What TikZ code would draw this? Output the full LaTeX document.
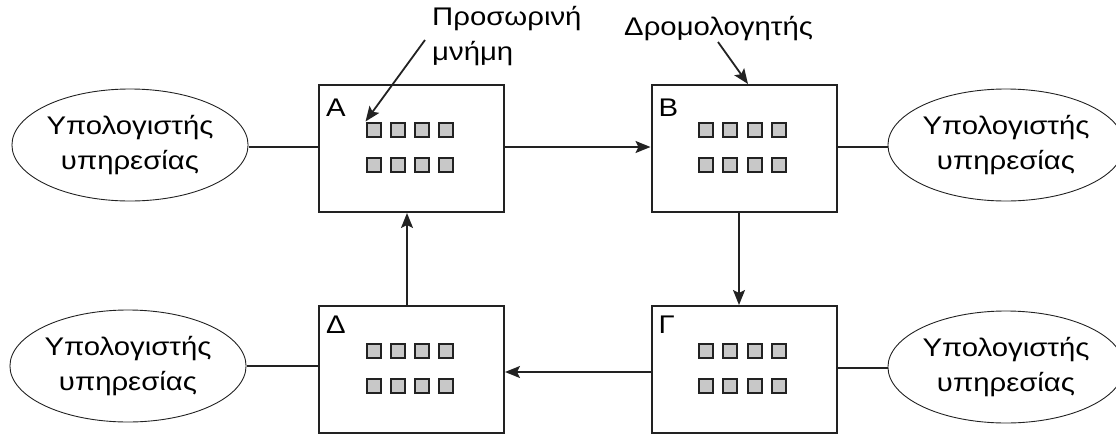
\documentclass[tikz,border=0pt]{standalone}
\usepackage{fontspec}
\setmainfont[FakeStretch=1.15]{Liberation Sans}
\usetikzlibrary{shapes.geometric,arrows.meta}
\definecolor{ink}{HTML}{222222}
\definecolor{cell}{HTML}{C8C8C8}
\tikzset{
  router/.style={draw=ink,line width=2pt,minimum width=185pt,minimum height=127pt,inner sep=0pt},
  host/.style={draw=ink,line width=0.9pt,ellipse,minimum width=232pt,minimum height=112pt,inner sep=0pt,align=center,font=\fontsize{25.5}{35}\selectfont},
  lbl/.style={inner sep=0pt,font=\fontsize{25.5}{35}\selectfont},
  cellbox/.style={draw=ink,fill=cell,line width=2pt,minimum size=14pt,inner sep=0pt},
  link/.style={draw=ink,line width=1.8pt},
  arr/.style={link,-{Stealth[length=15pt,width=12pt,inset=3pt]}},
}
\newcommand{\cells}[1]{%
  \foreach \i in {0,1,2,3}{
    \node[cellbox] (#1r1c\i) at ([xshift=55.5pt+\i*24.3pt,yshift=-45.5pt]#1.north west) {};
    \node[cellbox] (#1r2c\i) at ([xshift=55.5pt+\i*24.3pt,yshift=-80.5pt]#1.north west) {};
  }}
\begin{document}
\begin{tikzpicture}[x=1pt,y=-1pt]
\useasboundingbox (0,0) rectangle (1116,434);
\node[router] (A) at (411.5,148.5) {};
\node[router] (B) at (744,148.5) {};
\node[router] (D) at (411.5,369.5) {};
\node[router] (G) at (744,369.5) {};
\cells{A}\cells{B}\cells{D}\cells{G}
\node[lbl,anchor=north west] (Alab) at ([xshift=8pt,yshift=-15pt]A.north west) {A};
\node[lbl,anchor=north west] (Blab) at ([xshift=8pt,yshift=-15pt]B.north west) {B};
\node[lbl,anchor=north west] (Dlab) at ([xshift=8pt,yshift=-11pt]D.north west) {Δ};
\node[lbl,anchor=north west] (Glab) at ([xshift=8pt,yshift=-11pt]G.north west) {Γ};
\node[host] (H1) at (130,145) {Υπολογιστής\\υπηρεσίας};
\node[host] (H2) at (1006,145) {Υπολογιστής\\υπηρεσίας};
\node[host] (H3) at (128,366) {Υπολογιστής\\υπηρεσίας};
\node[host] (H4) at (1006,367) {Υπολογιστής\\υπηρεσίας};
\node[lbl,anchor=north west,align=left] (cache) at (432,6) {Προσωρινή\\μνήμη};
\node[lbl,anchor=north west] (router) at (624,16) {Δρομολογητής};
\coordinate (cs) at (425,40);
\coordinate (rs) at (718,42);
\draw[link] (H1.east |- 0,147) -- (A.west |- 0,147);
\draw[arr] (A.east |- 0,147) -- (B.west |- 0,147);
\draw[link] (B.east |- 0,147) -- (H2.west |- 0,147);
\draw[link] (H3.east |- 0,366) -- (D.west |- 0,366);
\draw[arr] (G.west |- 0,372) -- (D.east |- 0,372);
\draw[link] (G.east |- 0,368) -- (H4.west |- 0,368);
\draw[arr] (D.north -| 407,0) -- (A.south -| 407,0);
\draw[arr] (B.south -| 739,0) -- (G.north -| 739,0);
\draw[arr] (cs) -- (Ar1c0.north west);
\draw[arr] (rs) -- (B.north -| 748,0);
\end{tikzpicture}
\end{document}
